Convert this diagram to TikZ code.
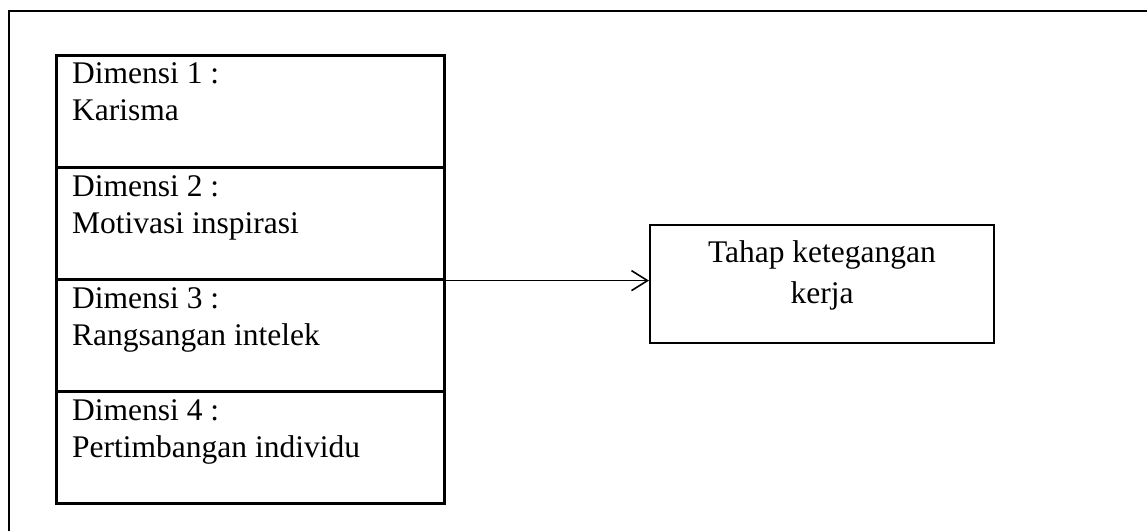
\documentclass[tikz,border=0pt]{standalone}
\usepackage{fontspec}
\setmainfont{Liberation Serif}
\usetikzlibrary{arrows.meta,calc}
\begin{document}
\begin{tikzpicture}[x=1pt,y=-1pt,
  rowbox/.style={draw,line width=2.6pt,minimum width=388pt,minimum height=112pt,inner sep=0pt,anchor=north west},
  rowtext/.style={anchor=base west,inner sep=0pt,font=\fontsize{31.5}{37}\selectfont,align=left},
  targetbox/.style={draw,line width=1.5pt,minimum width=344pt,minimum height=118pt,inner sep=0pt,anchor=north west},
  targettext/.style={inner sep=0pt,font=\fontsize{31.5}{41}\selectfont,align=center,anchor=base},
  frame/.style={line width=2.6pt},
  conn/.style={line width=1.3pt,-{Straight Barb[length=16pt,width=20pt,line width=1.6pt]}}]
\useasboundingbox (0,0) rectangle (1147,531);
\coordinate (fbl) at (9,531);
\coordinate (ftl) at (9,11);
\coordinate (ftr) at (1147,11);
\draw[frame] (fbl) -- (ftl) -- (ftr);

\node[rowbox] (r1) at (55,54) {};
\node[rowbox] (r2) at (55,166) {};
\node[rowbox] (r3) at (55,278) {};
\node[rowbox] (r4) at (55,390) {};

% base anchor of a multi-line node sits on its last line
\node[rowtext] (t1) at (72,120) {Dimensi 1 :\\Karisma};
\node[rowtext] (t2) at (72,233) {Dimensi 2 :\\Motivasi inspirasi};
\node[rowtext] (t3) at (72,345) {Dimensi 3 :\\Rangsangan intelek};
\node[rowtext] (t4) at (72,457) {Dimensi 4 :\\Pertimbangan individu};

\node[targetbox] (k) at (649,224) {};
\node[targettext] (kt) at (822,303) {Tahap ketegangan\\kerja};

\draw[conn] (r2.south east) -- (r2.south east -| k.west);
\end{tikzpicture}
\end{document}
